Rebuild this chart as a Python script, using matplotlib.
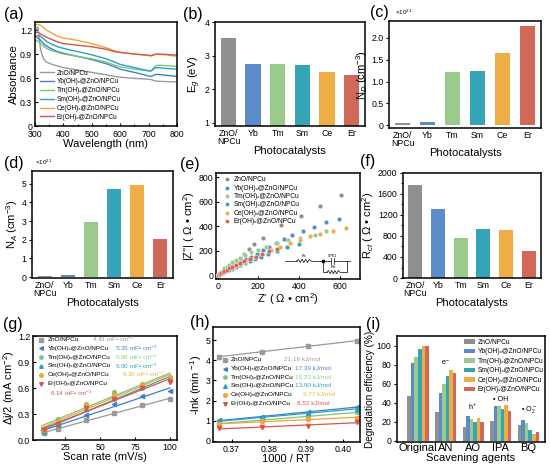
import numpy as np
import matplotlib
matplotlib.use('Agg')
from matplotlib import pyplot as plt

plt.rcParams['font.family'] = ['Liberation Sans', 'DejaVu Sans']
plt.rcParams['mathtext.fontset'] = 'custom'
plt.rcParams['mathtext.rm'] = 'Liberation Sans'
plt.rcParams['mathtext.it'] = 'Liberation Sans:italic'
plt.rcParams['axes.linewidth'] = 1.1
plt.rcParams['xtick.labelsize'] = 6.3
plt.rcParams['ytick.labelsize'] = 6.3

# ---- shared names / colours
short_names = ['ZnO/\nNPCu', 'Yb', 'Tm', 'Sm', 'Ce', 'Er']
long_names = ['ZnO/NPCu', 'Yb(OH)ₓ@ZnO/NPCu', 'Tm(OH)ₓ@ZnO/NPCu',
              'Sm(OH)ₓ@ZnO/NPCu', 'Ce(OH)ₓ@ZnO/NPCu', 'Er(OH)ₓ@ZnO/NPCu']
bar_colors = ['#8f8f8f', '#5b8bc9', '#9acb8d', '#35a4b7', '#efad45', '#d1685a']
line_colors = ['#9a9a9a', '#3f7fd0', '#79c77a', '#2aa1c4', '#f2a53a', '#d6564a']

# ---- (a) UV-vis absorbance
wavelength = [300, 310, 320, 330, 340, 360, 380, 400, 450, 500, 550, 580, 600, 650, 700, 710, 720, 730, 760, 800]
abs_zno = [1.18, 1.24, 0.95, 0.84, 0.80, 0.77, 0.75, 0.73, 0.70, 0.67, 0.64, 0.62, 0.61, 0.595, 0.585, 0.58, 0.565, 0.56, 0.555, 0.55]
abs_yb = [1.13, 1.10, 1.07, 1.03, 1.00, 0.96, 0.93, 0.91, 0.87, 0.83, 0.78, 0.74, 0.71, 0.67, 0.625, 0.62, 0.64, 0.645, 0.635, 0.62]
abs_tm = [1.08, 1.06, 1.03, 1.00, 0.97, 0.94, 0.92, 0.90, 0.87, 0.84, 0.80, 0.76, 0.74, 0.71, 0.69, 0.69, 0.74, 0.76, 0.755, 0.745]
abs_sm = [1.12, 1.13, 1.12, 1.09, 1.06, 1.02, 0.99, 0.97, 0.93, 0.89, 0.84, 0.80, 0.77, 0.73, 0.69, 0.69, 0.72, 0.73, 0.72, 0.71]
abs_ce = [1.26, 1.27, 1.26, 1.23, 1.20, 1.16, 1.12, 1.10, 1.07, 1.03, 0.98, 0.94, 0.92, 0.90, 0.88, 0.875, 0.89, 0.895, 0.89, 0.87]
abs_er = [1.17, 1.17, 1.15, 1.13, 1.11, 1.08, 1.05, 1.03, 1.01, 0.99, 0.96, 0.93, 0.92, 0.90, 0.885, 0.88, 0.895, 0.90, 0.895, 0.885]

# ---- (b), (c), (d), (f) bar data
eg = [3.53, 2.76, 2.76, 2.73, 2.51, 2.41]
nd = [0.06, 0.07, 1.22, 1.24, 1.65, 2.27]      # x1e21
na = [0.05, 0.10, 2.93, 4.72, 4.91, 2.05]      # x1e21
rct = [1780, 1305, 770, 930, 910, 510]

# ---- (e) Nyquist
zre_zno = [2, 6, 11, 17, 25, 34, 45, 58, 73, 90, 110, 132, 155, 178, 222, 313, 412, 501, 608]
zim_zno = [3, 9, 16, 25, 36, 48, 62, 78, 96, 116, 142, 175, 215, 252, 308, 411, 488, 565, 655]
zre_yb = [2, 6, 12, 19, 28, 38, 50, 64, 80, 98, 118, 140, 165, 195, 225, 254, 287, 324, 368, 421, 475, 535, 599]
zim_yb = [3, 8, 14, 22, 31, 42, 54, 67, 82, 98, 115, 133, 152, 175, 205, 234, 262, 295, 325, 358, 391, 432, 462]
zre_tm = [2, 5, 10, 16, 24, 33, 44, 57, 72, 90, 110, 135, 165, 200, 240, 290, 345, 405, 480, 535]
zim_tm = [4, 10, 19, 30, 43, 57, 72, 88, 105, 124, 143, 165, 188, 210, 235, 262, 285, 303, 330, 358]
zre_sm = [2, 6, 12, 20, 30, 42, 56, 72, 90, 110, 133, 158, 185, 215, 250, 290, 340, 400]
zim_sm = [2, 6, 11, 17, 25, 34, 44, 55, 68, 82, 97, 113, 130, 150, 172, 198, 228, 254]
zre_ce = [2, 6, 12, 19, 28, 39, 52, 67, 85, 105, 128, 155, 185, 220, 260, 305, 355, 405, 454, 503, 565, 629]
zim_ce = [3, 7, 13, 20, 29, 39, 50, 62, 76, 92, 110, 130, 152, 178, 205, 235, 262, 290, 317, 336, 360, 388]
zre_er = [2, 5, 10, 16, 24, 33, 44, 57, 72, 90, 110, 132, 158, 188, 220, 255, 290]
zim_er = [3, 7, 13, 20, 28, 37, 47, 58, 70, 84, 99, 115, 133, 152, 172, 195, 215]

# ---- (g) double-layer capacitance
scan_rate = [10, 20, 40, 60, 80, 100]
dj_zno = [0.077, 0.13, 0.23, 0.315, 0.40, 0.47]
dj_yb = [0.09, 0.17, 0.29, 0.41, 0.51, 0.57]
dj_tm = [0.13, 0.24, 0.42, 0.55, 0.65, 0.73]
dj_sm = [0.10, 0.18, 0.36, 0.49, 0.61, 0.70]
dj_ce = [0.12, 0.21, 0.40, 0.52, 0.63, 0.72]
dj_er = [0.11, 0.19, 0.37, 0.47, 0.60, 0.67]
cdl_text = ['4.43', '5.35', '6.68', '6.00', '6.39', '6.14']

# ---- (h) Arrhenius
inv_rt = [0.3667, 0.3782, 0.3905, 0.4036]
lnk_zno = [4.18, 4.42, 4.70, 4.97]
lnk_yb = [1.03, 1.19, 1.44, 1.69]
lnk_tm = [0.87, 1.02, 1.22, 1.42]
lnk_sm = [0.98, 1.17, 1.37, 1.60]
lnk_ce = [0.82, 0.98, 1.09, 1.15]
lnk_er = [0.62, 0.70, 0.72, 0.95]
ea_text = ['21.16', '17.39', '15.23', '13.90', '3.77', '6.52']

# ---- (i) scavenger tests
agents = ['Original', 'AN', 'AO', 'IPA', 'BQ']
deg_zno = [47.4, 30.5, 14.0, 21.0, 16.5]
deg_yb = [81.8, 50.2, 25.6, 36.1, 22.1]
deg_tm = [87.7, 59.6, 22.8, 36.1, 18.6]
deg_sm = [96.5, 67.4, 20.0, 33.3, 11.2]
deg_ce = [100.0, 74.4, 24.2, 37.9, 7.0]
deg_er = [99.0, 70.9, 19.3, 31.6, 8.8]
species = ['e$^-$', 'h$^+$', '• OH', '• O$_2^-$']
species_y = [77, 30, 40, 27]

W, H = 550, 471
fig = plt.figure(figsize=(5.5, 4.71), dpi=100)


def add_ax(l, t, r, b):
	return fig.add_axes([l / W, 1 - b / H, (r - l) / W, (b - t) / H])


def bar_panel(ax, vals, ylabel):
	x = np.arange(len(vals))
	ax.bar(x, vals, width=0.62, color=bar_colors)
	ax.set_xticks(x)
	ax.set_xticklabels(short_names, linespacing=0.95)
	ax.set_xlim(-0.55, 5.55)
	ax.tick_params(axis='x', length=0, pad=2)
	ax.tick_params(axis='y', direction='out', length=2.5, width=0.8, pad=1.5)
	ax.set_xlabel('Photocatalysts', fontsize=8, labelpad=0)
	ax.set_ylabel(ylabel, fontsize=8, labelpad=1)


# (a)
ax = add_ax(35, 22, 177, 126)
abs_all = [abs_zno, abs_yb, abs_tm, abs_sm, abs_ce, abs_er]
for vals, c, lab in zip(abs_all, line_colors, long_names):
	ax.plot(wavelength, vals, color=c, lw=1.0, label=lab)
ax.set_xlim(300, 800)
ax.set_ylim(0, 1.3)
ax.set_xticks([300, 400, 500, 600, 700, 800])
ax.set_xticks(np.arange(350, 800, 100), minor=True)
ax.set_yticks([0, 0.3, 0.6, 0.9, 1.2])
ax.set_yticklabels(['0', '0.3', '0.6', '0.9', '1.2'])
ax.tick_params(direction='in', length=2.5, width=0.8, pad=2)
ax.tick_params(axis='x', pad=3)
ax.tick_params(which='minor', direction='in', length=1.5, width=0.6)
ax.set_xlabel('Wavelength (nm)', fontsize=8, labelpad=0)
ax.set_ylabel('Absorbance', fontsize=8, labelpad=1)
ax.legend(loc='lower left', bbox_to_anchor=(0.0, 0.0), frameon=False, fontsize=4.7,
	handlelength=2.1, handletextpad=0.4, labelspacing=0.28, borderpad=0.3)

# (b)
ax = add_ax(215, 22, 365, 126)
bar_panel(ax, eg, 'E$_g$ (eV)')
ax.set_ylim(0.9, 4)
ax.set_yticks([1, 2, 3, 4])

# (c)
ax = add_ax(389, 21, 541, 128)
bar_panel(ax, nd, 'N$_D$ (cm$^{-3}$)')
ax.set_ylim(-0.06, 2.38)
ax.set_yticks([0, 0.5, 1.0, 1.5, 2.0])
ax.set_yticklabels(['0', '0.5', '1.0', '1.5', '2.0'])
ax.text(0.04, 1.04, '×10$^{21}$', transform=ax.transAxes, fontsize=4.5, va='bottom')

# (d)
ax = add_ax(32, 171, 173, 278)
bar_panel(ax, na, 'N$_A$ (cm$^{-3}$)')
ax.set_ylim(-0.05, 5.68)
ax.set_yticks([0, 1, 2, 3, 4, 5])
ax.text(0.02, 1.04, '×10$^{21}$', transform=ax.transAxes, fontsize=4.5, va='bottom')

# (e)
ax = add_ax(216, 173, 360, 279)
zre_all = [zre_zno, zre_yb, zre_tm, zre_sm, zre_ce, zre_er]
zim_all = [zim_zno, zim_yb, zim_tm, zim_sm, zim_ce, zim_er]
for xs, ys, c, lab in zip(zre_all, zim_all, bar_colors, long_names):
	ax.scatter(xs, ys, s=11, color=c, edgecolors='white', linewidths=0.25, label=lab, zorder=3)
ax.set_xlim(-8, 700)
ax.set_ylim(-30, 835)
ax.set_xticks([0, 200, 400, 600])
ax.set_yticks([0, 200, 400, 600, 800])
ax.tick_params(direction='in', length=2.5, width=0.8, pad=2)
ax.set_xlabel("Z' ( Ω • cm$^2$)", fontsize=8, labelpad=0)
ax.set_ylabel("|Z''| ( Ω • cm$^2$)", fontsize=8, labelpad=1)
ax.legend(loc='upper left', bbox_to_anchor=(-0.01, 1.02), frameon=False, fontsize=4.8,
	handletextpad=0.1, labelspacing=0.2, borderpad=0.3, markerscale=0.9)
# equivalent circuit sketch
tr = ax.transAxes
lw_c = 0.5
ym, yb = 0.17, 0.065


def zigzag(x0, x1, y, h):
	xs = np.linspace(x0, x1, 9)
	ys = [y, y + h, y - h, y + h, y - h, y + h, y - h, y + h, y]
	ax.plot(xs, ys, color='k', lw=lw_c, transform=tr, zorder=4)


ax.plot([0.48, 0.56], [ym, ym], color='k', lw=lw_c, transform=tr)
zigzag(0.56, 0.66, ym, 0.015)
ax.plot([0.66, 0.80], [ym, ym], color='k', lw=lw_c, transform=tr)
ax.plot([0.82, 0.93], [ym, ym], color='k', lw=lw_c, transform=tr)
ax.plot([0.80, 0.80], [ym - 0.025, ym + 0.025], color='k', lw=lw_c, transform=tr)
ax.plot([0.82, 0.82], [ym - 0.025, ym + 0.025], color='k', lw=lw_c, transform=tr)
ax.plot([0.74], [ym], 'ks', ms=1.8, transform=tr)
ax.plot([0.74, 0.74, 0.77], [ym, yb, yb], color='k', lw=lw_c, transform=tr)
zigzag(0.77, 0.86, yb, 0.015)
ax.plot([0.86, 0.907, 0.907], [yb, yb, ym], color='k', lw=lw_c, transform=tr)
ax.text(0.61, 0.205, 'Rs', fontsize=2.6, ha='center', transform=tr)
ax.text(0.81, 0.205, 'CPE1', fontsize=2.6, ha='center', transform=tr)
ax.text(0.815, 0.10, 'Rct', fontsize=2.6, ha='center', transform=tr)

# (f)
ax = add_ax(403, 173, 541, 278)
bar_panel(ax, rct, 'R$_{ct}$ ( Ω • cm$^2$)')
ax.set_ylim(0, 2000)
ax.set_yticks([0, 400, 800, 1200, 1600, 2000])
ax.set_yticks(np.arange(200, 2000, 200), minor=True)
ax.tick_params(axis='y', which='minor', direction='out', length=1.5, width=0.6)

markers = ['s', '<', 'h', '^', 'o', 'v']
text_colors = ['#9b9b9b', '#4f80c4', '#8fcb8a', '#2aa2c2', '#f0b040', '#d45a50']

# (g)
ax = add_ax(33, 336, 177, 440)
dj_all = [dj_zno, dj_yb, dj_tm, dj_sm, dj_ce, dj_er]
fit_x = np.array([8, 100])
for ys, c, m in zip(dj_all, line_colors, markers):
	k, b = np.polyfit(scan_rate, ys, 1)
	ax.plot(fit_x, k * fit_x + b, color=c, lw=0.9)
	ax.plot(scan_rate, ys, ls='none', marker=m, ms=3, color=c)
ax.set_xlim(2, 105)
ax.set_ylim(0, 1.2)
ax.set_xticks([25, 50, 75, 100])
ax.set_yticks([0, 0.3, 0.6, 0.9, 1.2])
ax.set_yticklabels(['0.0', '0.3', '0.6', '0.9', '1.2'])
ax.tick_params(direction='in', length=2.5, width=0.8, pad=2)
ax.set_xlabel('Scan rate (mV/s)', fontsize=8, labelpad=0)
ax.set_ylabel('Δj/2 (mA cm$^{-2}$)', fontsize=8, labelpad=1)
g_rows = [0.965, 0.88, 0.795, 0.712, 0.627, 0.54]
g_cap_pos = [(0.41, 0.965), (0.57, 0.88), (0.57, 0.795), (0.57, 0.712), (0.615, 0.627), (0.12, 0.45)]
for i in range(6):
	ax.plot([0.058], [g_rows[i]], marker=markers[i], ms=2.6, color=line_colors[i], transform=ax.transAxes)
	ax.text(0.10, g_rows[i], long_names[i], fontsize=4.6, va='center', transform=ax.transAxes)
	ax.text(g_cap_pos[i][0], g_cap_pos[i][1], cdl_text[i] + ' mF• cm$^{-2}$', fontsize=4.6,
		color=text_colors[i], va='center', transform=ax.transAxes)

# (h)
ax = add_ax(213, 327, 360, 442)
lnk_all = [lnk_zno, lnk_yb, lnk_tm, lnk_sm, lnk_ce, lnk_er]
for ys, c, m in zip(lnk_all, line_colors, markers):
	k, b = np.polyfit(inv_rt, ys, 1)
	xx = np.array([inv_rt[0], inv_rt[-1]])
	ax.plot(xx, k * xx + b, color=c, lw=0.9)
	ax.plot(inv_rt, ys, ls='none', marker=m, ms=3, color=c)
ax.set_xlim(0.365, 0.4045)
ax.set_ylim(-0.05, 5.65)
ax.set_xticks([0.37, 0.38, 0.39, 0.40])
ax.set_xticklabels(['0.37', '0.38', '0.39', '0.40'])
ax.set_yticks([0, 1, 2, 3, 4, 5])
ax.tick_params(direction='in', length=2.5, width=0.8, pad=2)
ax.set_xlabel('1000 / RT', fontsize=8, labelpad=0)
ax.set_ylabel('-lnk (min $^{-1}$)', fontsize=8, labelpad=1)
h_rows = [0.716, 0.638, 0.563, 0.487, 0.41, 0.333]
h_ea_x = [0.48, 0.56, 0.56, 0.56, 0.615, 0.57]
for i in range(6):
	ax.plot([0.08], [h_rows[i]], marker=markers[i], ms=2.6, color=line_colors[i], transform=ax.transAxes)
	ax.text(0.12, h_rows[i], long_names[i], fontsize=4.6, va='center', transform=ax.transAxes)
	ax.text(h_ea_x[i], h_rows[i], ea_text[i] + ' kJ/mol', fontsize=4.6,
		color=text_colors[i], va='center', transform=ax.transAxes)

# (i)
ax = add_ax(397, 336, 545, 442)
deg_all = [deg_zno, deg_yb, deg_tm, deg_sm, deg_ce, deg_er]
gx = np.arange(len(agents))
bw = 0.128
for j, (vals, c, lab) in enumerate(zip(deg_all, bar_colors, long_names)):
	ax.bar(gx + (j - 2.5) * bw, vals, width=bw, color=c, label=lab)
for j, s in enumerate(species):
	ax.text(gx[j + 1], species_y[j], s, fontsize=5.2, ha='center', va='bottom')
ax.set_xlim(-0.76, 4.6)
ax.set_ylim(-1.5, 110)
ax.set_xticks(gx)
ax.set_xticklabels(agents, fontsize=8)
ax.set_yticks([0, 20, 40, 60, 80, 100])
ax.tick_params(axis='x', length=0, pad=1)
ax.tick_params(axis='y', direction='out', length=2.5, width=0.8, pad=1.5)
ax.set_xlabel('Scavening agents', fontsize=8, labelpad=0)
ax.set_ylabel('Degradation efficiency (%)', fontsize=7.2, labelpad=1)
ax.legend(loc='upper right', bbox_to_anchor=(1.03, 1.03), frameon=False, fontsize=4.8,
	handlelength=1.6, handleheight=0.7, handletextpad=0.4, labelspacing=0.38)

# panel letters
letters = [('(a)', 4, 15), ('(b)', 183, 14), ('(c)', 370, 13),
	('(d)', 4, 164), ('(e)', 180, 165), ('(f)', 360, 162),
	('(g)', 3, 325), ('(h)', 190, 322), ('(i)', 366, 324)]
for s, x, y in letters:
	fig.text(x / W, 1 - y / H, s, fontsize=11.5, va='center', ha='left')

fig.savefig('out.png', dpi=100)
